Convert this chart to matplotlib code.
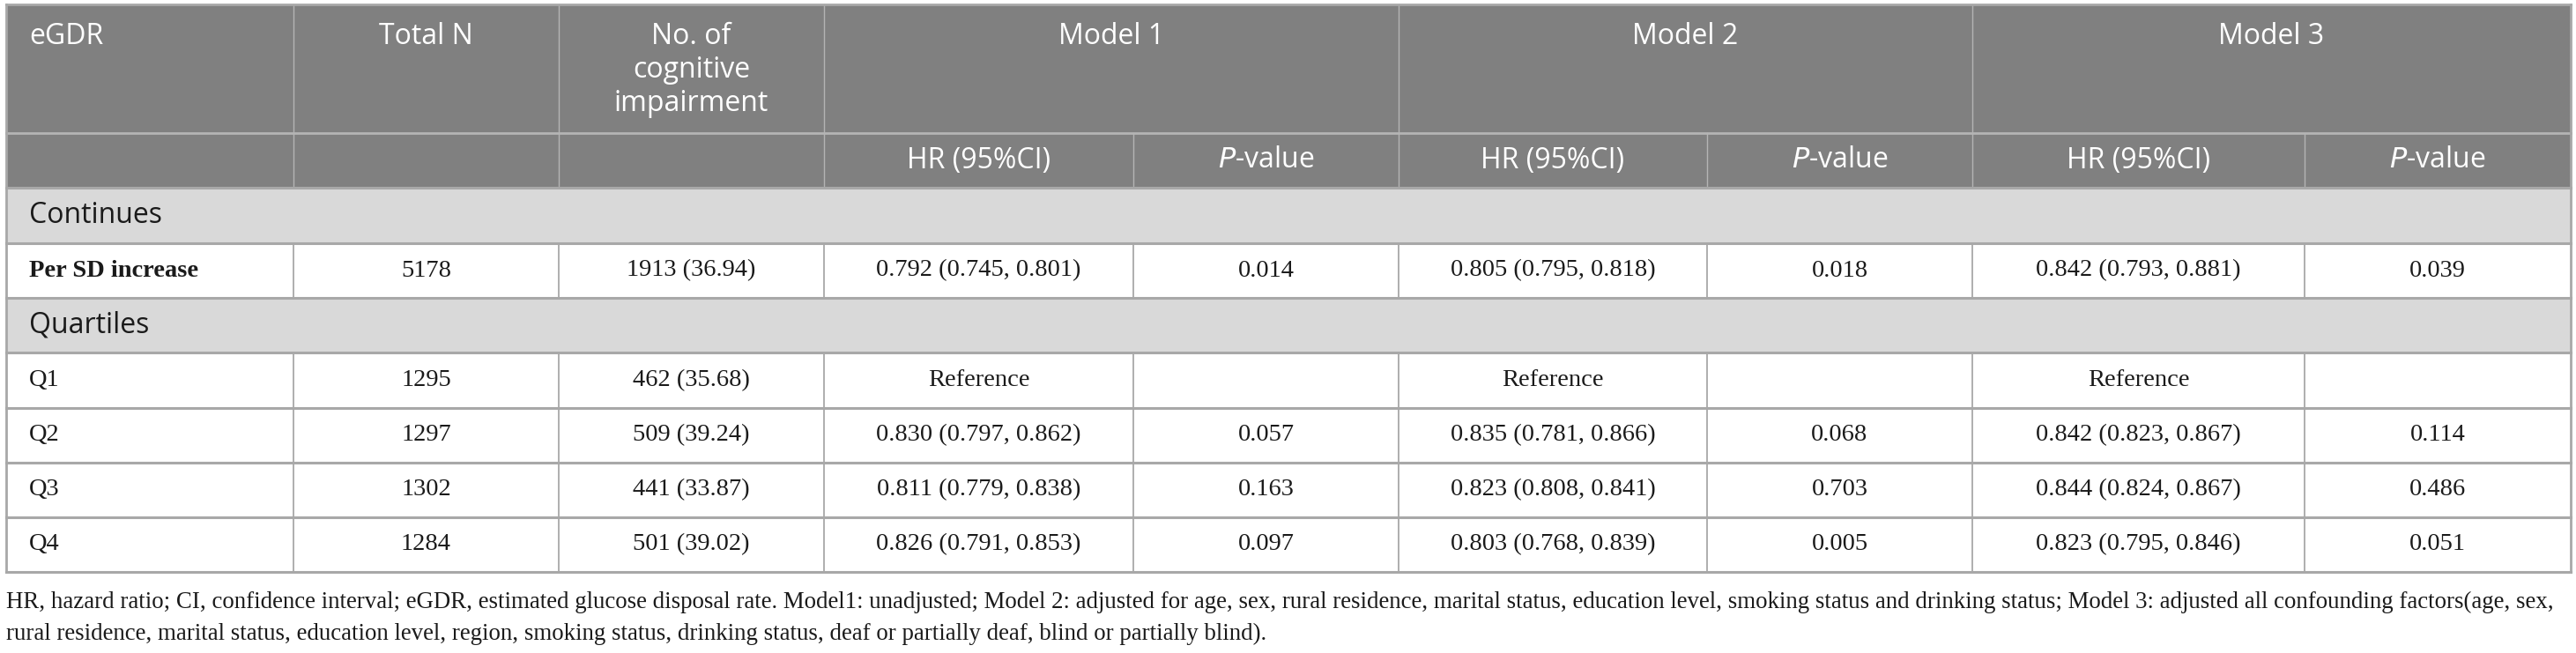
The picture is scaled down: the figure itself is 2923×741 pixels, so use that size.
import matplotlib.pyplot as plt
from matplotlib.patches import Rectangle

# table content
col_heads = ["eGDR", "Total N", "No. of\ncognitive\nimpairment"]
model_heads = ["Model 1", "Model 2", "Model 3"]
sub_heads = ["HR (95%CI)", "$\\it{P}$-value"]

row_labels = ["Per SD increase", "Q1", "Q2", "Q3", "Q4"]
total_n = ["5178", "1295", "1297", "1302", "1284"]
n_cases = ["1913 (36.94)", "462 (35.68)", "509 (39.24)", "441 (33.87)", "501 (39.02)"]
m1_hr = ["0.792 (0.745, 0.801)", "Reference", "0.830 (0.797, 0.862)", "0.811 (0.779, 0.838)", "0.826 (0.791, 0.853)"]
m1_p = ["0.014", "", "0.057", "0.163", "0.097"]
m2_hr = ["0.805 (0.795, 0.818)", "Reference", "0.835 (0.781, 0.866)", "0.823 (0.808, 0.841)", "0.803 (0.768, 0.839)"]
m2_p = ["0.018", "", "0.068", "0.703", "0.005"]
m3_hr = ["0.842 (0.793, 0.881)", "Reference", "0.842 (0.823, 0.867)", "0.844 (0.824, 0.867)", "0.823 (0.795, 0.846)"]
m3_p = ["0.039", "", "0.114", "0.486", "0.051"]
sections = ["Continues", "Quartiles"]

foot1 = ("HR, hazard ratio; CI, confidence interval; eGDR, estimated glucose disposal rate. Model1: unadjusted; "
         "Model 2: adjusted for age, sex, rural residence, marital status, education level, smoking status and "
         "drinking status; Model 3: adjusted all confounding factors(age, sex,")
foot2 = ("rural residence, marital status, education level, region, smoking status, drinking status, "
         "deaf or partially deaf, blind or partially blind).")

# layout in pixels
W, H = 2923, 741
xs = [7, 333, 634, 935, 1286, 1587, 1937, 2238, 2615, 2917]
ys = [5, 151, 213, 276, 338, 400, 463, 525, 587, 649]

hdr_bg = "#808080"
sec_bg = "#d9d9d9"
line_c = "#a8a8a8"
hdr_line = "#b4b4b4"
txt = "#1a1a1a"
sans = ["Open Sans", "DejaVu Sans"]
serif = ["Liberation Serif", "DejaVu Serif"]
hsize = 23
dsize = 20.5

fig = plt.figure(figsize=(W / 100, H / 100), dpi=100)
ax = fig.add_axes([0, 0, 1, 1])
ax.set_xlim(0, W)
ax.set_ylim(H, 0)
ax.axis("off")

# backgrounds
ax.add_patch(Rectangle((xs[0], ys[0]), xs[-1] - xs[0], ys[2] - ys[0], color=hdr_bg, lw=0))
for r0 in (2, 4):
    ax.add_patch(Rectangle((xs[0], ys[r0]), xs[-1] - xs[0], ys[r0 + 1] - ys[r0], color=sec_bg, lw=0))

# header lines
for x in [xs[1], xs[2], xs[3], xs[5], xs[7]]:
    ax.plot([x, x], [ys[0], ys[2]], color=hdr_line, lw=1.0)
for x in [xs[4], xs[6], xs[8]]:
    ax.plot([x, x], [ys[1], ys[2]], color=hdr_line, lw=1.0)
ax.plot([xs[0], xs[-1]], [ys[1], ys[1]], color=hdr_line, lw=2.0)
ax.plot([xs[0], xs[-1]], [ys[0], ys[0]], color=line_c, lw=2.0)

# data row verticals
data_rows = [3, 5, 6, 7, 8]
for r in data_rows:
    for x in xs[1:-1]:
        ax.plot([x, x], [ys[r], ys[r + 1]], color=line_c, lw=1.3)
# outer verticals
for x in (xs[0], xs[-1]):
    ax.plot([x, x], [ys[0], ys[-1]], color=line_c, lw=2.0)
# horizontals
for y in ys[2:]:
    ax.plot([xs[0], xs[-1]], [y, y], color=line_c, lw=2.2)

# header text
ax.text(33, 42, col_heads[0], color="white", fontsize=hsize, family=sans, ha="left", va="center")
ax.text((xs[1] + xs[2]) / 2, 42, col_heads[1], color="white", fontsize=hsize, family=sans, ha="center", va="center")
for i, line in enumerate(col_heads[2].split("\n")):
    ax.text((xs[2] + xs[3]) / 2, 42 + i * 38, line, color="white", fontsize=hsize, family=sans,
            ha="center", va="center")
for m, name in enumerate(model_heads):
    ax.text((xs[3 + 2 * m] + xs[5 + 2 * m]) / 2, 42, name, color="white", fontsize=hsize, family=sans,
            ha="center", va="center")
    for s in range(2):
        ax.text((xs[3 + 2 * m + s] + xs[4 + 2 * m + s]) / 2, 182, sub_heads[s], color="white",
                fontsize=hsize, family=sans, ha="center", va="center")

# section rows
for r0, name in zip((2, 4), sections):
    ax.text(33, (ys[r0] + ys[r0 + 1]) / 2, name, color=txt, fontsize=hsize, family=sans,
            ha="left", va="center")

# data rows
cols = [total_n, n_cases, m1_hr, m1_p, m2_hr, m2_p, m3_hr, m3_p]
for i, r in enumerate(data_rows):
    yc = (ys[r] + ys[r + 1]) / 2
    ax.text(33, yc, row_labels[i], color=txt, fontsize=dsize, family=serif, ha="left", va="center",
            fontweight="bold" if i == 0 else "normal")
    for c, vals in enumerate(cols):
        ax.text((xs[c + 1] + xs[c + 2]) / 2, yc, vals[i], color=txt, fontsize=dsize, family=serif,
                ha="center", va="center")

# footnote
ax.text(7, 683, foot1, color=txt, fontsize=19.4, family=serif, ha="left", va="center")
ax.text(7, 719, foot2, color=txt, fontsize=19.4, family=serif, ha="left", va="center")

fig.savefig("out.png", dpi=100, facecolor="white")
